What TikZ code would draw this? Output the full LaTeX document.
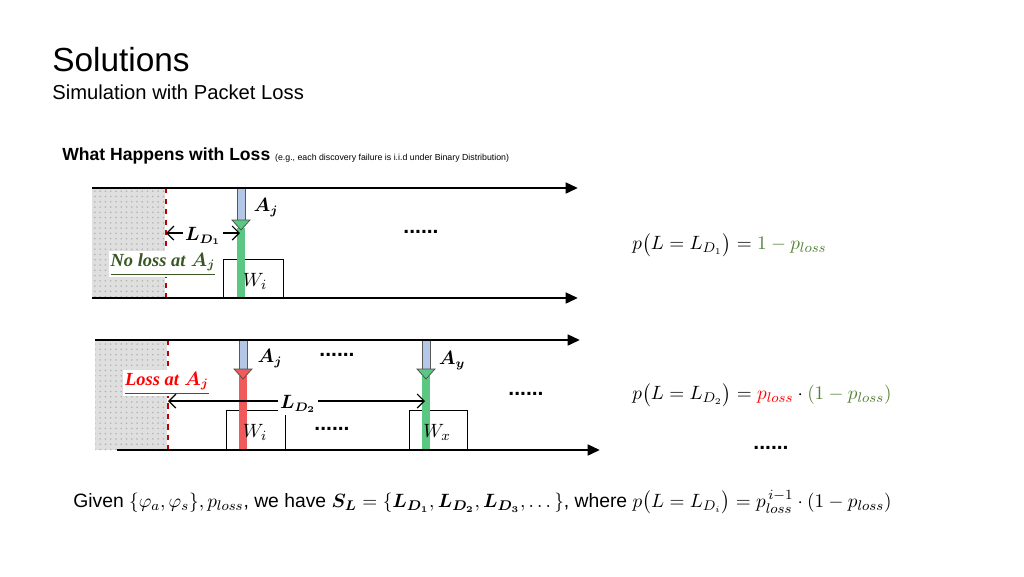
\documentclass[tikz,border=0pt]{standalone}
\usepackage{amsmath,bm}
\usepackage{fontspec}
\setmainfont{Liberation Sans}
\usetikzlibrary{arrows.meta,patterns}
\definecolor{dgreen}{RGB}{84,130,53}
\definecolor{ngreen}{RGB}{56,87,35}
\definecolor{barg}{RGB}{90,200,130}
\definecolor{barr}{RGB}{240,90,90}
\definecolor{barb}{RGB}{180,199,231}
\tikzset{
 x=0.02cm,y=-0.02cm,
 axis/.style={line width=1.6pt,-{Triangle[length=7pt,width=6pt]}},
 shade/.style={fill=gray!25,draw=none,postaction={pattern=dots,pattern color=gray!60}},
 rdash/.style={red!75!black,dashed,line width=1.4pt},
 wbox/.style={draw,line width=0.8pt,fill=white},
 dim/.style={line width=0.7pt,{Straight Barb[length=4pt]}-{Straight Barb[length=4pt]}},
 lbl/.style={inner sep=0pt,font=\fontsize{10.5}{12}\selectfont},
 dots/.style={inner sep=0pt,font=\bfseries\fontsize{12}{12}\selectfont},
 eq/.style={inner sep=0pt,font=\fontsize{11}{12}\selectfont}
}
\begin{document}
\begin{tikzpicture}
\useasboundingbox (0,0) rectangle (1024,576);
\node[anchor=west,inner sep=0pt,font=\fontsize{19}{22}\selectfont] (title) at (52,60) {Solutions};
\node[anchor=west,inner sep=0pt,font=\fontsize{11.5}{13}\selectfont] (sub) at (52,92) {Simulation with Packet Loss};
\node[anchor=base west,inner sep=0pt] (what) at (62,160) {\bfseries\fontsize{10}{12}\selectfont What Happens with Loss \mdseries\fontsize{5}{6}\selectfont(e.g., each discovery failure is i.i.d under Binary Distribution)};
% top panel
\fill[shade] (92,188) rectangle (165,298);
\draw[rdash] (166,188) -- (166,298);
\node[wbox,inner sep=0pt,anchor=south west,minimum width=1.2cm,minimum height=0.76cm] (w1) at (223,298) {};
\fill[barg] (237,228) rectangle (245,298);
\node[eq] (w1t) at (255,281) {$W_i$};
\fill[barb,draw=gray!70!black,line width=0.4pt] (237,188) rectangle (245,220);
\fill[barg,draw=gray!60!black,line width=0.4pt] (232,220) -- (250,220) -- (241,230) -- cycle;
\draw[axis] (92,188) -- (578,188);
\draw[axis] (92,298) -- (578,298);
\node[lbl] (aj1) at (266,208) {$\bm{A_j}$};
\coordinate (d1a) at (166,233); \coordinate (d1b) at (240,233);
\draw[dim] (d1a) -- (d1b);
\node[lbl,fill=white,inner sep=1pt] (ld1) at (203,236) {$\bm{L_{D_1}}$};
\node[lbl,text=ngreen,fill=white,inner sep=1pt] (nl) at (163,264) {\underline{\textit{\textbf{\fontspec{Liberation Serif}No loss at} $\bm{A_j}$}}};
\node[dots] (dt1) at (421,232) {......};
\node[eq,anchor=west] (e1) at (632,245) {$p\big(L=L_{D_1}\big)=\textcolor{dgreen}{1-p_{loss}}$};
% bottom panel
\fill[shade] (95,340) rectangle (167,450);
\draw[rdash] (168,340) -- (168,450);
\node[wbox,inner sep=0pt,anchor=south west,minimum width=1.18cm,minimum height=0.78cm] (w2) at (226,450) {};
\node[wbox,inner sep=0pt,anchor=south west,minimum width=1.16cm,minimum height=0.78cm] (w3) at (409,450) {};
\fill[barr] (239,376) rectangle (247,450);
\fill[barg] (422,376) rectangle (430,450);
\fill[barb,draw=gray!70!black,line width=0.4pt] (239,340) rectangle (247,369);
\fill[barr,draw=gray!60!black,line width=0.4pt] (234,369) -- (252,369) -- (243,379) -- cycle;
\fill[barb,draw=gray!70!black,line width=0.4pt] (422,340) rectangle (430,369);
\fill[barg,draw=gray!60!black,line width=0.4pt] (417,369) -- (435,369) -- (426,379) -- cycle;
\node[eq] (w2t) at (255,432) {$W_i$};
\node[eq] (w3t) at (437,432) {$W_x$};
\draw[axis] (95,340) -- (580,340);
\draw[axis] (117,450) -- (600,450);
\node[lbl] (aj2) at (270,359) {$\bm{A_j}$};
\node[lbl] (ay) at (452,361) {$\bm{A_y}$};
\node[dots] (dt2) at (337,355) {......};
\node[lbl,text=red,fill=white,inner sep=1pt] (ls) at (167,383) {\underline{\textit{\textbf{\fontspec{Liberation Serif}Loss at} $\bm{A_j}$}}};
\coordinate (d2a) at (168,401); \coordinate (d2b) at (425,401);
\draw[dim] (d2a) -- (d2b);
\node[lbl,fill=white,inner sep=1pt] (ld2) at (298,404) {$\bm{L_{D_2}}$};
\node[dots] (dt3) at (332,429) {......};
\node[dots] (dt4) at (526,394) {......};
\node[dots] (dt5) at (771,448) {......};
\node[eq,anchor=west] (e2) at (632,395) {$p\big(L=L_{D_2}\big)=\textcolor{red}{p_{loss}}\cdot\textcolor{dgreen}{(1-p_{loss})}$};
\node[anchor=west,inner sep=0pt,font=\fontsize{11}{12}\selectfont] (given) at (73,502) {Given $\{\varphi_a,\varphi_s\},p_{loss}$, we have $\bm{S_L}=\{\bm{L_{D_1}},\bm{L_{D_2}},\bm{L_{D_3}},\dots\}$, where $p\big(L=L_{D_i}\big)=p_{loss}^{\,i-1}\cdot(1-p_{loss})$};
\end{tikzpicture}
\end{document}
